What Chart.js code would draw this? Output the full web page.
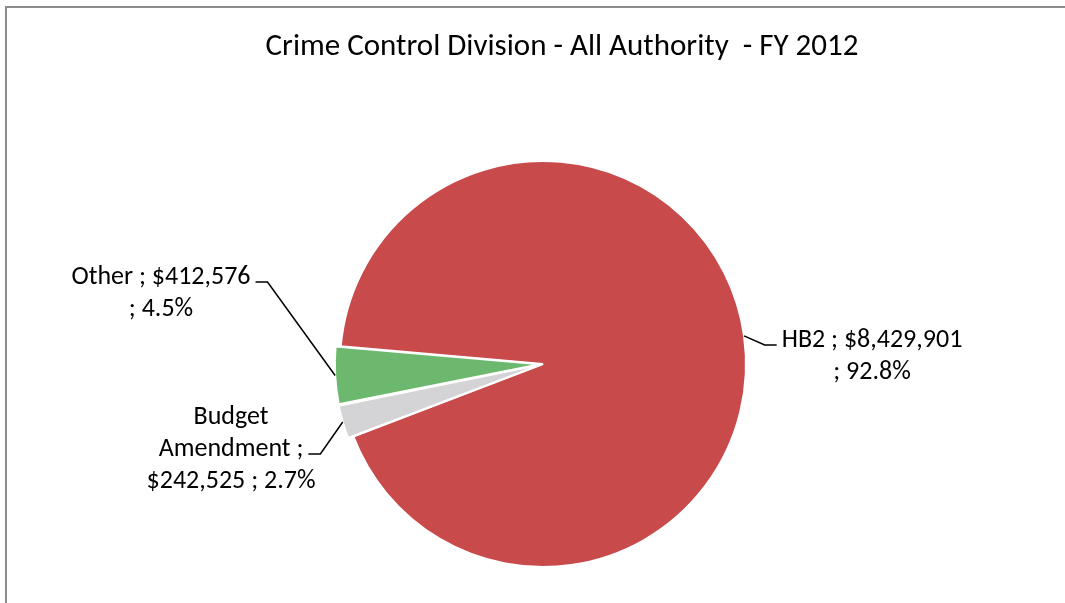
<!DOCTYPE html>
<html>
<head>
<meta charset="utf-8">
<title>Crime Control Division - All Authority - FY 2012</title>
<script src="https://cdn.jsdelivr.net/npm/chart.js@4.4.0/dist/chart.umd.min.js"></script>
<style>
  html, body { margin: 0; padding: 0; background: #fff; overflow: hidden; }
  #wrap { width: 1065px; height: 603px; }
</style>
</head>
<body>
<div id="wrap"><canvas id="pie" width="1065" height="603"></canvas></div>
<script>
// funding sources for the division
const categories = ['HB2', 'Budget Amendment', 'Other'];
const amounts = [8429901, 242525, 412576];
const sliceColors = ['#C84A4A', '#D4D4D6', '#6DB86F'];
const sliceOffsets = [0, 12, 12];
const chartTitle = 'Crime Control Division - All Authority  - FY 2012';

const total = amounts.reduce((a, b) => a + b, 0);
const money = v => '$' + v.toLocaleString('en-US');
const pct = v => (v / total * 100).toFixed(1) + '%';

// data label boxes, placed relative to the pie centre
const labelBoxes = [
  { dx: 329, dy: -24, lineWords: [3, 2], side: 'left', anchorLine: 0 },
  { dx: -312, dy: 53, lineWords: [1, 2, 3], side: 'right', anchorLine: 1 },
  { dx: -382, dy: -87, lineWords: [3, 2], side: 'right', anchorLine: 0 }
];

const LABEL_FONT = '26px Carlito, Lato, sans-serif';
const TITLE_FONT = '31px Carlito, Lato, sans-serif';
const LINE_H = 32;

const pieDecor = {
  id: 'pieDecor',
  beforeDraw(chart) {
    const ctx = chart.ctx;
    ctx.save();
    ctx.fillStyle = '#8c8c8c';
    ctx.fillRect(5, 6, 2, chart.height - 6);
    ctx.fillRect(5, 6, chart.width - 5, 2);
    ctx.restore();
  },
  afterDraw(chart) {
    const ctx = chart.ctx;
    const meta = chart.getDatasetMeta(0);
    ctx.save();

    ctx.fillStyle = '#000';
    ctx.font = TITLE_FONT;
    ctx.textAlign = 'center';
    ctx.textBaseline = 'alphabetic';
    ctx.fillText(chartTitle, 562, 55);

    ctx.font = LABEL_FONT;
    ctx.textBaseline = 'middle';
    ctx.strokeStyle = '#000';
    ctx.lineWidth = 1.5;

    meta.data.forEach((arc, i) => {
      const p = arc.getProps(['x', 'y', 'startAngle', 'endAngle', 'outerRadius', 'circumference'], true);
      const mid = (p.startAngle + p.endAngle) / 2;
      const off = (arc.options.offset || 0) / 4;
      const fix = 1 - Math.sin(Math.min(Math.PI, p.circumference));
      const r = p.outerRadius + off * (1 + fix);
      const ax = p.x + Math.cos(mid) * r;
      const ay = p.y + Math.sin(mid) * r;

      const box = labelBoxes[i];
      const words = (categories[i] + ' ; ' + money(amounts[i]) + ' ; ' + pct(amounts[i])).split(' ');
      const lines = [];
      let k = 0;
      box.lineWords.forEach(n => { lines.push(words.slice(k, k + n).join(' ')); k += n; });

      const cx = p.x + box.dx;
      const top = p.y + box.dy;
      lines.forEach((ln, j) => ctx.fillText(ln, cx, top + j * LINE_H));

      // leader line: slice edge -> elbow -> text
      const w = ctx.measureText(lines[box.anchorLine]).width;
      const ly = top + box.anchorLine * LINE_H + 5;
      const dir = box.side === 'left' ? -1 : 1;
      const endX = cx + dir * (w / 2 + 5);
      const elbowX = endX + dir * 12;
      ctx.beginPath();
      ctx.moveTo(ax, ay);
      ctx.lineTo(elbowX, ly);
      ctx.lineTo(endX, ly);
      ctx.stroke();
    });
    ctx.restore();
  }
};

new Chart(document.getElementById('pie'), {
  type: 'pie',
  data: {
    labels: categories,
    datasets: [{
      data: amounts,
      backgroundColor: sliceColors,
      borderColor: '#fff',
      borderWidth: 2,
      offset: sliceOffsets,
      radius: 203,
      rotation: 275
    }]
  },
  options: {
    responsive: false,
    animation: false,
    devicePixelRatio: 1,
    layout: { padding: { left: 40, right: 19, top: 150, bottom: 25 } },
    plugins: {
      legend: { display: false },
      title: { display: false },
      tooltip: { enabled: false }
    }
  },
  plugins: [pieDecor]
});
</script>
</body>
</html>
